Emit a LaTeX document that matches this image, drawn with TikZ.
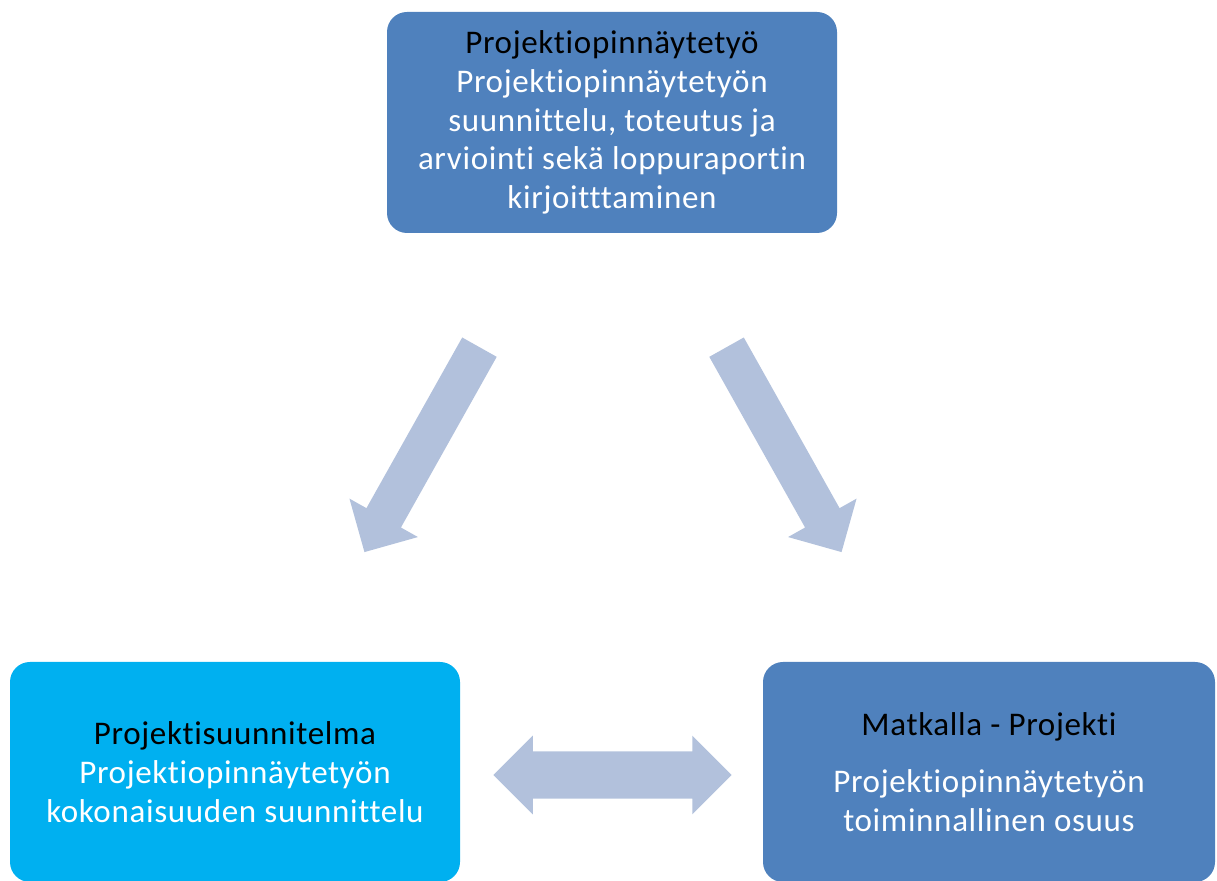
\documentclass[tikz,border=0pt]{standalone}
\usepackage{fontspec}
\setmainfont{Carlito}[Ligatures=NoCommon, LetterSpace=2]
\usetikzlibrary{shapes.arrows}
\definecolor{sininen}{RGB}{79,129,189}
\definecolor{vaalea}{RGB}{0,176,240}
\definecolor{nuolivari}{RGB}{178,193,220}

\begin{document}
\begin{tikzpicture}[
	laatikko/.style={rounded corners=0.5cm, minimum width=11.25cm, minimum height=5.5cm, inner sep=0pt, align=center, text=white, font=\fontsize{23.5}{27.5}\selectfont},
	nuoli/.style={single arrow, fill=nuolivari, inner xsep=0pt, inner ysep=0.4875cm, minimum width=0pt, single arrow head extend=0.4875cm, single arrow tip angle=90, minimum height=5.875cm},
	tupla/.style={double arrow, fill=nuolivari, inner xsep=0pt, inner ysep=0.584cm, minimum width=0pt, double arrow head extend=0.395cm, double arrow tip angle=90, minimum height=5.96cm}]
	
	\useasboundingbox (0,0) rectangle (30.425,22.025);
	
	\node[laatikko, fill=sininen, minimum height=5.525cm] (tyo) at (15.3,18.9625) {\textcolor{black}{Projektiopinnäytetyö}\\Projektiopinnäytetyön\\suunnittelu, toteutus ja\\arviointi sekä loppuraportin\\kirjoitttaminen};
	\node[laatikko, fill=vaalea] (suunnitelma) at (5.875,2.725) {\textcolor{black}{Projektisuunnitelma}\\Projektiopinnäytetyön\\kokonaisuuden suunnittelu};
	\node[laatikko, fill=sininen, minimum width=11.3cm] (matkalla) at (24.725,2.725) {\textcolor{black}{Matkalla - Projekti}\\[13pt]Projektiopinnäytetyön\\toiminnallinen osuus};
	
	\node[nuoli, rotate=240.7] (vasen) at (10.67,11.0) {};
	\node[nuoli, rotate=299.3] (oikea) at (19.48,11.0) {};
	\node[tupla] (valissa) at (15.3125,2.65) {};
	
\end{tikzpicture}
\end{document}
